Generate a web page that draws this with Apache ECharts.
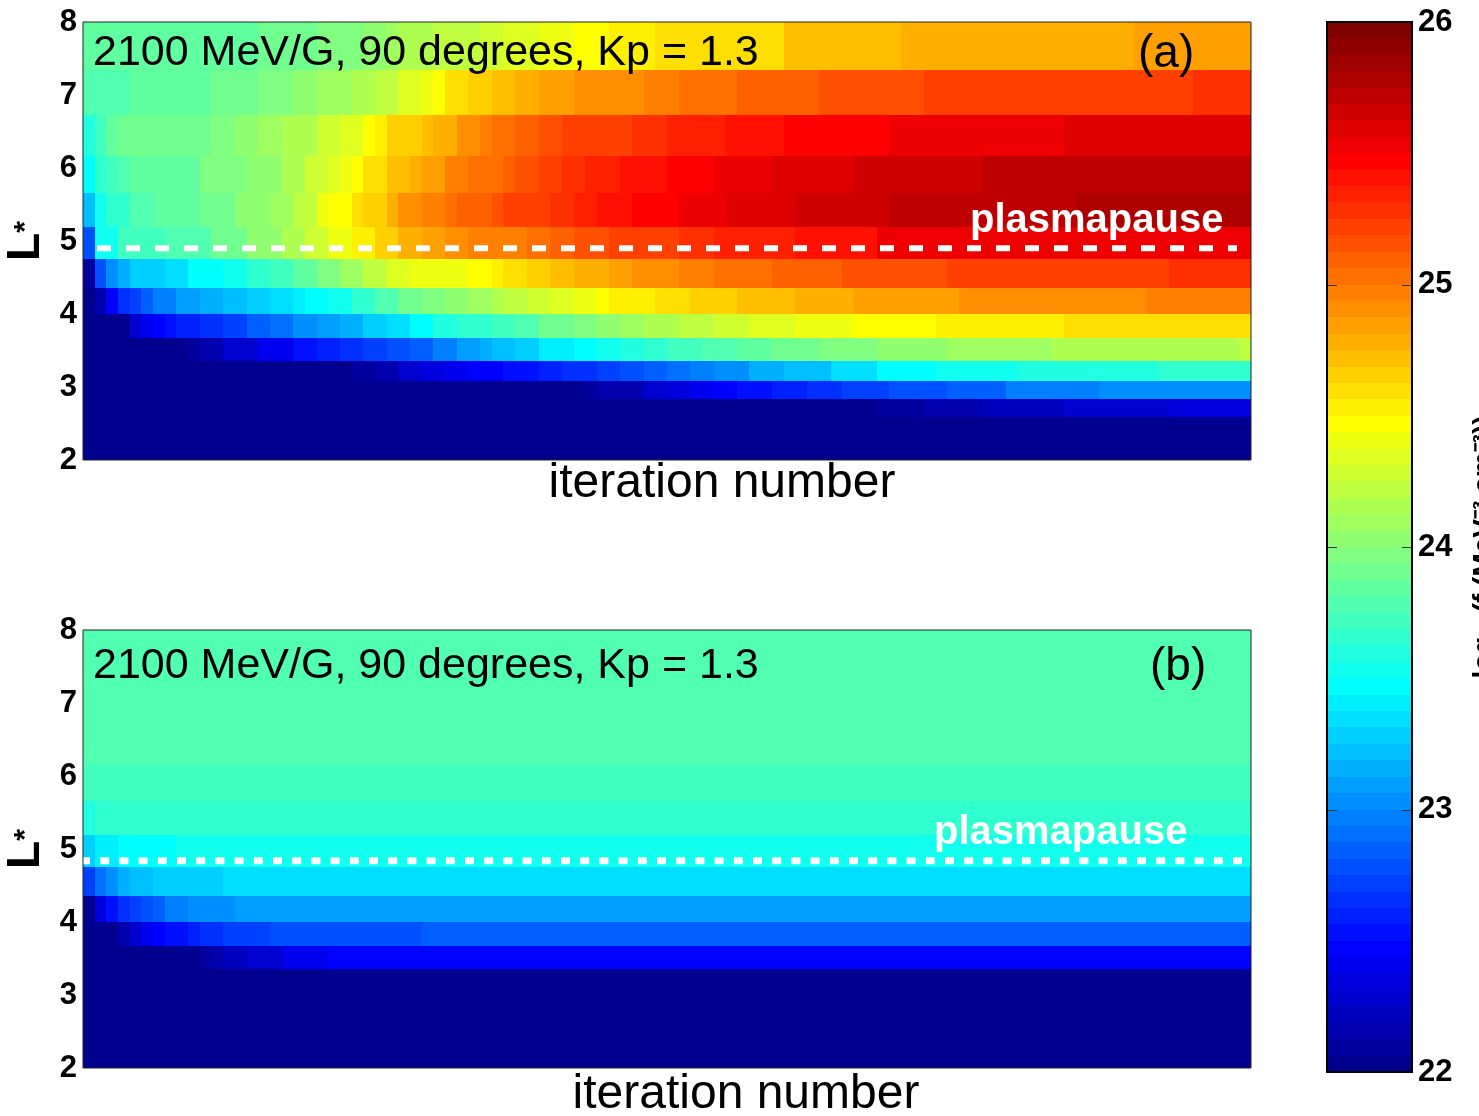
<!DOCTYPE html>
<html>
<head>
<meta charset="utf-8">
<script src="https://cdn.jsdelivr.net/npm/echarts@6/dist/echarts.min.js"></script>
<style>
  html, body { margin: 0; padding: 0; background: #fff; }
  #chart { width: 1479px; height: 1116px; }
</style>
</head>
<body>
<div id="chart"></div>
<script>
// L* cell edges of the log-spaced radial grid (bottom to top)
const lEdges = [2.00, 2.18, 2.38, 2.59, 2.83, 3.08, 3.36, 3.67, 4.00, 4.36, 4.76, 5.19, 5.66, 6.17, 6.73, 7.34, 8.00];
const iterationCount = 100;
const lTicks = [2, 3, 4, 5, 6, 7, 8];
const colorTicks = [22, 23, 24, 25, 26];

// log10 phase space density, one entry per L* row (lowest L* first);
// each row is a list of runs: [number of iterations, value]
const psdA = [
  [[100, 22.0]],
  [[100, 22.0]],
  [[100, 22.0]],
  [[68, 22.0], [4, 22.09], [5, 22.16], [7, 22.22], [9, 22.28], [7, 22.34]],
  [[43, 22.0], [1, 22.09], [4, 22.16], [2, 22.28], [2, 22.34], [2, 22.41], [2, 22.47], [3, 22.53], [3, 22.59], [3, 22.66], [4, 22.72], [5, 22.78], [5, 22.84], [8, 22.97], [13, 23.03]],
  [[23, 22.0], [2, 22.09], [2, 22.16], [2, 22.28], [2, 22.34], [2, 22.41], [3, 22.47], [3, 22.53], [2, 22.59], [3, 22.66], [2, 22.72], [2, 22.78], [2, 22.84], [2, 22.91], [2, 22.97], [3, 23.06], [3, 23.16], [4, 23.22], [4, 23.34], [5, 23.47], [7, 23.53], [12, 23.59], [8, 23.66]],
  [[9, 22.0], [1, 22.09], [2, 22.16], [3, 22.28], [3, 22.41], [2, 22.53], [2, 22.59], [2, 22.66], [2, 22.72], [2, 22.78], [2, 22.84], [2, 22.97], [2, 23.09], [1, 23.16], [2, 23.22], [2, 23.31], [3, 23.41], [2, 23.47], [2, 23.53], [2, 23.59], [2, 23.66], [3, 23.72], [3, 23.78], [3, 23.84], [4, 23.91], [5, 23.97], [6, 24.03], [9, 24.09], [16, 24.16], [1, 24.22]],
  [[4, 22.0], [1, 22.26], [1, 22.38], [1, 22.47], [1, 22.53], [2, 22.59], [2, 22.66], [2, 22.72], [2, 22.84], [2, 22.91], [2, 23.03], [2, 23.09], [2, 23.16], [2, 23.26], [2, 23.34], [2, 23.47], [2, 23.59], [3, 23.66], [2, 23.72], [2, 23.78], [3, 23.91], [2, 23.97], [2, 24.03], [2, 24.09], [3, 24.16], [3, 24.22], [3, 24.28], [4, 24.34], [5, 24.41], [7, 24.47], [11, 24.53], [16, 24.59]],
  [[1, 22.03], [1, 22.16], [1, 22.47], [1, 22.66], [1, 22.72], [1, 22.84], [2, 22.97], [2, 23.09], [2, 23.16], [2, 23.22], [2, 23.28], [2, 23.34], [1, 23.41], [2, 23.47], [2, 23.53], [2, 23.66], [2, 23.78], [2, 23.91], [2, 23.97], [2, 24.03], [2, 24.09], [1, 24.16], [2, 24.22], [2, 24.28], [2, 24.34], [2, 24.41], [1, 24.47], [4, 24.53], [3, 24.59], [4, 24.66], [5, 24.72], [5, 24.78], [9, 24.84], [16, 24.91], [9, 24.97]],
  [[1, 22.09], [1, 22.78], [1, 23.03], [1, 23.16], [3, 23.28], [2, 23.34], [3, 23.47], [2, 23.53], [2, 23.66], [2, 23.72], [2, 23.84], [2, 23.97], [2, 24.09], [2, 24.22], [2, 24.34], [5, 24.41], [2, 24.47], [1, 24.53], [2, 24.59], [2, 24.66], [2, 24.72], [3, 24.78], [2, 24.84], [4, 24.91], [3, 24.97], [5, 25.03], [6, 25.09], [9, 25.16], [19, 25.22], [7, 25.28]],
  [[1, 22.78], [2, 23.51], [4, 23.72], [4, 23.78], [3, 23.91], [3, 24.03], [2, 24.16], [2, 24.28], [2, 24.41], [2, 24.56], [2, 24.66], [2, 24.78], [2, 24.84], [2, 24.91], [5, 24.97], [2, 25.03], [2, 25.09], [3, 25.16], [2, 25.19], [4, 25.22], [3, 25.28], [7, 25.34], [7, 25.41], [32, 25.53]],
  [[1, 23.22], [1, 23.51], [2, 23.66], [2, 23.78], [4, 23.84], [3, 23.91], [3, 24.03], [2, 24.09], [2, 24.22], [1, 24.38], [2, 24.47], [1, 24.59], [2, 24.66], [1, 24.78], [2, 24.88], [2, 24.97], [1, 25.03], [3, 25.09], [1, 25.13], [2, 25.19], [2, 25.22], [2, 25.28], [2, 25.34], [3, 25.41], [4, 25.47], [4, 25.53], [6, 25.59], [8, 25.66], [16, 25.72], [15, 25.78]],
  [[1, 23.44], [1, 23.66], [1, 23.72], [1, 23.78], [6, 23.84], [4, 23.97], [3, 24.03], [2, 24.16], [2, 24.28], [1, 24.34], [1, 24.41], [1, 24.47], [2, 24.59], [2, 24.72], [1, 24.8], [2, 24.84], [2, 24.97], [3, 25.06], [1, 25.09], [2, 25.16], [2, 25.22], [2, 25.28], [3, 25.34], [4, 25.41], [4, 25.47], [5, 25.53], [7, 25.59], [11, 25.66], [23, 25.72]],
  [[1, 23.59], [1, 23.72], [1, 23.84], [8, 23.91], [2, 23.97], [2, 24.03], [2, 24.09], [3, 24.16], [2, 24.26], [2, 24.34], [1, 24.47], [1, 24.53], [3, 24.66], [1, 24.72], [2, 24.78], [1, 24.88], [1, 24.91], [1, 24.94], [2, 25.01], [2, 25.09], [2, 25.13], [3, 25.19], [3, 25.22], [3, 25.28], [5, 25.34], [5, 25.41], [9, 25.47], [15, 25.53], [16, 25.59]],
  [[4, 23.78], [7, 23.84], [4, 23.91], [3, 23.97], [2, 24.03], [3, 24.09], [2, 24.16], [2, 24.22], [2, 24.34], [1, 24.41], [1, 24.47], [2, 24.59], [2, 24.66], [2, 24.72], [2, 24.78], [3, 24.84], [6, 24.91], [3, 24.97], [5, 25.03], [7, 25.09], [9, 25.16], [23, 25.22], [5, 25.28]],
  [[15, 23.84], [5, 23.91], [4, 23.97], [2, 24.03], [1, 24.09], [3, 24.16], [4, 24.22], [2, 24.28], [3, 24.34], [3, 24.41], [3, 24.47], [4, 24.53], [5, 24.59], [6, 24.62], [10, 24.72], [20, 24.78], [10, 24.84]]
];

const psdB = [
  [[100, 22.0]],
  [[100, 22.0]],
  [[100, 22.0]],
  [[100, 22.0]],
  [[100, 22.0]],
  [[100, 22.0]],
  [[10, 22.0], [1, 22.09], [1, 22.16], [2, 22.22], [3, 22.28], [4, 22.38], [79, 22.47]],
  [[3, 22.0], [1, 22.16], [1, 22.28], [1, 22.41], [1, 22.47], [2, 22.53], [1, 22.59], [2, 22.66], [4, 22.72], [13, 22.78], [71, 22.84]],
  [[1, 22.0], [1, 22.34], [1, 22.53], [1, 22.66], [1, 22.72], [1, 22.78], [1, 22.84], [2, 22.97], [4, 23.03], [87, 23.09]],
  [[1, 22.72], [1, 22.91], [1, 23.03], [1, 23.16], [2, 23.22], [6, 23.28], [88, 23.34]],
  [[1, 23.28], [2, 23.41], [5, 23.47], [92, 23.53]],
  [[1, 23.59], [99, 23.66]],
  [[100, 23.72]],
  [[100, 23.78]],
  [[100, 23.78]],
  [[100, 23.78]]
];

// plasmapause location (L*) and its drawn extent (iterations)
const plasmapauseA = 4.90;
const plasmapauseB = 4.84;
const plasmapauseSpanA = [1.2, 98.8];
const plasmapauseSpanB = [0, 100];

const annotation = '2100 MeV/G, 90 degrees, Kp = 1.3';
const FONT = '"Liberation Sans", Arial, Helvetica, sans-serif';

// MATLAB-style 64-level jet colormap
function jetColor(i) { // i = 1..64
  const r = i <= 24 ? 0 : i <= 40 ? (i - 24) / 16 : i <= 56 ? 1 : 1 - (i - 56) / 16;
  const g = i <= 8 ? 0 : i <= 24 ? (i - 8) / 16 : i <= 40 ? 1 : i <= 56 ? (56 - i) / 16 : 0;
  const b = i <= 8 ? (i + 8) / 16 : i <= 24 ? 1 : i <= 40 ? (40 - i) / 16 : 0;
  const h = v => Math.round(v * 255).toString(16).padStart(2, '0');
  return '#' + h(r) + h(g) + h(b);
}
const cMin = colorTicks[0], cMax = colorTicks[colorTicks.length - 1];
const levels = 64;
const step = (cMax - cMin) / levels;
const jetPieces = [];
for (let i = 0; i < levels; i++) {
  const piece = { gte: cMin + i * step, color: jetColor(i + 1) };
  if (i === levels - 1) piece.lte = cMax; else piece.lt = cMin + (i + 1) * step;
  jetPieces.push(piece);
}
// colour bar cells: one per colormap level, [x0, x1, lo, hi, mid]
const colorbarCells = jetPieces.map(p => {
  const hi = p.lt !== undefined ? p.lt : p.lte;
  return [0, 1, p.gte, hi, (p.gte + hi) / 2];
});

// turn row runs into rectangles [iterStart, iterEnd, L0, L1, value]
function expandRuns(rows) {
  const cells = [];
  rows.forEach((runs, r) => {
    let start = 0;
    runs.forEach(([n, v]) => {
      cells.push([start, start + n, lEdges[r], lEdges[r + 1], v]);
      start += n;
    });
  });
  return cells;
}

function renderCell(params, api) {
  const p0 = api.coord([api.value(0), api.value(3)]);
  const p1 = api.coord([api.value(1), api.value(2)]);
  const x0 = Math.round(p0[0]), y0 = Math.round(p0[1]);
  const x1 = Math.round(p1[0]), y1 = Math.round(p1[1]);
  return {
    type: 'rect',
    shape: { x: x0, y: y0, width: x1 - x0, height: y1 - y0 },
    style: { fill: api.visual('color') }
  };
}

// short inward tick marks on both edges of the colour bar
function renderColorbarTick(params, api) {
  const l = api.coord([0, api.value(0)]);
  const r = api.coord([1, api.value(0)]);
  const y = Math.round(l[1]) + 0.5;
  const tickStyle = { stroke: '#333', lineWidth: 1 };
  return {
    type: 'group',
    children: [
      { type: 'line', shape: { x1: l[0], y1: y, x2: l[0] + 10, y2: y }, style: tickStyle },
      { type: 'line', shape: { x1: r[0] - 10, y1: y, x2: r[0], y2: y }, style: tickStyle }
    ]
  };
}

const tickLabelStyle = { color: '#000', fontFamily: FONT, fontWeight: 'bold', fontSize: 31 };

function lAxis(gridIndex) {
  return {
    gridIndex, type: 'value', min: lTicks[0], max: lTicks[lTicks.length - 1], interval: 1,
    name: '{l|L}{s|*}', nameLocation: 'middle', nameRotate: 90, nameGap: 32,
    nameTextStyle: {
      rich: {
        l: { fontFamily: FONT, fontWeight: 'bold', fontSize: 46, color: '#000' },
        s: { fontFamily: FONT, fontWeight: 'bold', fontSize: 30, color: '#000', verticalAlign: 'middle' }
      }
    },
    axisLine: { show: false }, axisTick: { show: false }, splitLine: { show: false },
    axisLabel: Object.assign({ margin: 6 }, tickLabelStyle)
  };
}

function plasmapauseLine(axisIndex, span, level, lineStyle) {
  return {
    type: 'line', xAxisIndex: axisIndex, yAxisIndex: axisIndex,
    data: [[span[0], level], [span[1], level]],
    symbol: 'none', silent: true, z: 5,
    lineStyle: Object.assign({ color: '#fff', cap: 'butt' }, lineStyle)
  };
}

function textEl(x, y, text, font, fill, extra) {
  return Object.assign({
    type: 'text', x, y, z: 20, silent: true,
    style: Object.assign({ text, font, fill, verticalAlign: 'middle', align: 'left' }, (extra && extra.style) || {})
  }, extra && extra.rotation !== undefined ? { rotation: extra.rotation } : {});
}

const gridBase = { show: true, backgroundColor: 'transparent', z: 10, containLabel: false, outerBoundsMode: 'none' };

const chart = echarts.init(document.getElementById('chart'), null, { renderer: 'canvas' });

chart.setOption({
  animation: false,
  backgroundColor: '#fff',
  grid: [
    Object.assign({ left: 83, top: 22, width: 1168, height: 438, borderColor: '#222', borderWidth: 1 }, gridBase),
    Object.assign({ left: 83, top: 630, width: 1168, height: 438, borderColor: '#222', borderWidth: 1 }, gridBase),
    Object.assign({ left: 1327, top: 22, width: 85, height: 1050, borderColor: '#000', borderWidth: 2 }, gridBase)
  ],
  xAxis: [
    { gridIndex: 0, type: 'value', min: 0, max: iterationCount, show: false },
    { gridIndex: 1, type: 'value', min: 0, max: iterationCount, show: false },
    { gridIndex: 2, type: 'value', min: 0, max: 1, show: false }
  ],
  yAxis: [
    lAxis(0),
    lAxis(1),
    {
      gridIndex: 2, type: 'value', position: 'right', min: cMin, max: cMax, interval: 1,
      axisLine: { show: false }, splitLine: { show: false }, axisTick: { show: false },
      axisLabel: Object.assign({ margin: 6 }, tickLabelStyle)
    }
  ],
  visualMap: {
    type: 'piecewise',
    show: false,
    pieces: jetPieces,
    dimension: 4,
    seriesIndex: [0, 1, 2]
  },
  series: [
    {
      type: 'custom', name: 'psd-a', xAxisIndex: 0, yAxisIndex: 0,
      data: expandRuns(psdA), renderItem: renderCell, clip: true, silent: true,
      encode: { x: [0, 1], y: [2, 3] }, z: 1
    },
    {
      type: 'custom', name: 'psd-b', xAxisIndex: 1, yAxisIndex: 1,
      data: expandRuns(psdB), renderItem: renderCell, clip: true, silent: true,
      encode: { x: [0, 1], y: [2, 3] }, z: 1
    },
    {
      type: 'custom', name: 'colorbar', xAxisIndex: 2, yAxisIndex: 2,
      data: colorbarCells, renderItem: renderCell, clip: true, silent: true,
      encode: { x: [0, 1], y: [2, 3] }, z: 1
    },
    {
      type: 'custom', name: 'colorbar-ticks', xAxisIndex: 2, yAxisIndex: 2,
      data: colorTicks.map(v => [v]), renderItem: renderColorbarTick, silent: true,
      encode: { y: 0 }, z: 3
    },
    plasmapauseLine(0, plasmapauseSpanA, plasmapauseA, { width: 6, type: [14, 15] }),
    plasmapauseLine(1, plasmapauseSpanB, plasmapauseB, { width: 7, type: [9, 10.2], dashOffset: 2 })
  ],
  graphic: [
    textEl(93, 53, annotation, '43px ' + FONT, '#000'),
    textEl(1138, 54, '(a)', '46px ' + FONT, '#000'),
    textEl(970, 221, 'plasmapause', 'bold 40px ' + FONT, '#fff'),
    textEl(722, 484, 'iteration number', '48px ' + FONT, '#000', { style: { align: 'center' } }),
    textEl(93, 666, annotation, '43px ' + FONT, '#000'),
    textEl(1150, 667, '(b)', '46px ' + FONT, '#000'),
    textEl(934, 833, 'plasmapause', 'bold 40px ' + FONT, '#fff'),
    textEl(746, 1095, 'iteration number', '48px ' + FONT, '#000', { style: { align: 'center' } }),
    textEl(1470, 547, 'log\u2081\u2080(f (MeV\u207B\u00B3 cm\u207B\u00B3))', 'bold 28px ' + FONT, '#000',
      { rotation: Math.PI / 2, style: { align: 'center', verticalAlign: 'top' } })
  ]
});
</script>
</body>
</html>
